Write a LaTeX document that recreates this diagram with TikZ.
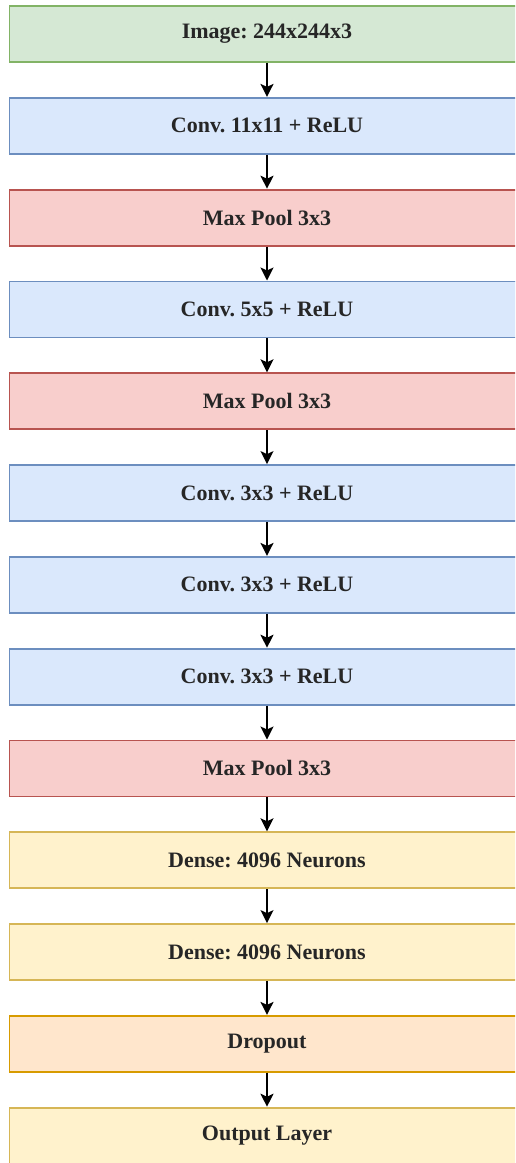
\documentclass[tikz,border=0pt]{standalone}
\usepackage{fontspec}
\setmainfont{Liberation Serif}
\usetikzlibrary{arrows.meta}
\definecolor{gfill}{HTML}{D5E8D4}\definecolor{gline}{HTML}{82B366}
\definecolor{bfill}{HTML}{DAE8FC}\definecolor{bline}{HTML}{6C8EBF}
\definecolor{rfill}{HTML}{F8CECC}\definecolor{rline}{HTML}{B85450}
\definecolor{yfill}{HTML}{FFF2CC}\definecolor{yline}{HTML}{D6B656}
\definecolor{ofill}{HTML}{FFE6CC}\definecolor{oline}{HTML}{D79B00}
\frenchspacing
\begin{document}
\begin{tikzpicture}[x=1pt,y=-1pt,
  layer/.style={draw, line width=1.8pt, minimum width=515pt, minimum height=56pt,
    inner sep=0pt, font=\fontsize{22}{24}\selectfont\bfseries, text=black!85},
  inputbox/.style={layer, fill=gfill, draw=gline},
  convbox/.style={layer, fill=bfill, draw=bline},
  poolbox/.style={layer, fill=rfill, draw=rline},
  densebox/.style={layer, fill=yfill, draw=yline},
  dropbox/.style={layer, fill=ofill, draw=oline},
  flow/.style={line width=1.6pt, -{Stealth[length=13pt,width=13pt,inset=3pt]}}]
\clip (0,0) rectangle (515,1163);
\useasboundingbox (0,0) rectangle (515,1163);
\node[inputbox] (n1) at (267,{6+28}) {Image: 244x244x3};
\node[convbox] (n2) at (267,{6+91.8*1+28}) {Conv. 11x11 + ReLU};
\node[poolbox] (n3) at (267,{6+91.8*2+28}) {Max Pool 3x3};
\node[convbox] (n4) at (267,{6+91.8*3+28}) {Conv. 5x5 + ReLU};
\node[poolbox] (n5) at (267,{6+91.8*4+28}) {Max Pool 3x3};
\node[convbox] (n6) at (267,{6+91.8*5+28}) {Conv. 3x3 + ReLU};
\node[convbox] (n7) at (267,{6+91.8*6+28}) {Conv. 3x3 + ReLU};
\node[convbox] (n8) at (267,{6+91.8*7+28}) {Conv. 3x3 + ReLU};
\node[poolbox] (n9) at (267,{6+91.8*8+28}) {Max Pool 3x3};
\node[densebox] (n10) at (267,{6+91.8*9+28}) {Dense: 4096 Neurons};
\node[densebox] (n11) at (267,{6+91.8*10+28}) {Dense: 4096 Neurons};
\node[dropbox] (n12) at (267,{6+91.8*11+28}) {Dropout};
\node[densebox] (n13) at (267,{6+91.8*12+28}) {Output Layer};
\foreach \a/\b in {n1/n2,n2/n3,n3/n4,n4/n5,n5/n6,n6/n7,n7/n8,n8/n9,n9/n10,n10/n11,n11/n12,n12/n13}
  \draw[flow] (\a.south) -- (\b.north);
\end{tikzpicture}
\end{document}
